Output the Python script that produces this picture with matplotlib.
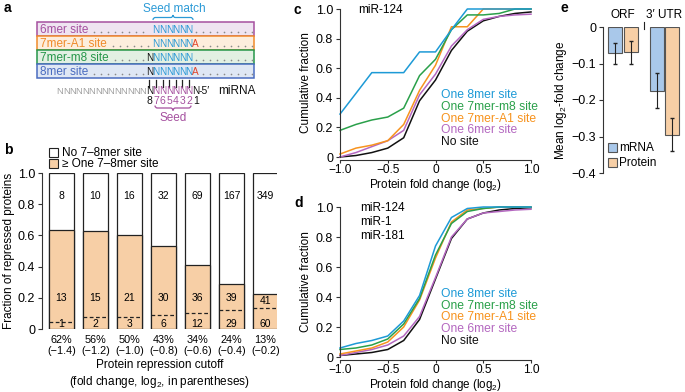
import matplotlib.pyplot as plt
from matplotlib.patches import Rectangle, PathPatch
from matplotlib.path import Path
import numpy as np

plt.rcParams['font.family'] = ['Liberation Sans', 'DejaVu Sans']
plt.rcParams['mathtext.fontset'] = 'custom'
plt.rcParams['mathtext.rm'] = 'Liberation Sans'
plt.rcParams['mathtext.it'] = 'Liberation Sans:italic'
plt.rcParams['mathtext.bf'] = 'Liberation Sans:bold'
plt.rcParams['axes.linewidth'] = 0.8

# ---------------- data ----------------
# panel a: site types
site_names = ['6mer site', '7mer-A1 site', '7mer-m8 site', '8mer site']
site_colors = ['#a5509f', '#f08a2a', '#26964a', '#4a6cc0']
site_fills = ['#efe4f1', '#fdeedd', '#e2f0e3', '#dfe7f4']
site_m8 = [False, False, True, True]
site_a1 = [False, True, False, True]
seed_digits = ['8', '7', '6', '5', '4', '3', '2', '1']

# panel b: counts per protein repression cutoff
cutoff_pct = ['62%', '56%', '50%', '43%', '34%', '24%', '13%']
cutoff_log2 = ['−1.4', '−1.2', '−1.0', '−0.8', '−0.6', '−0.4', '−0.2']
n_no_site = [8, 10, 16, 32, 69, 167, 349]
n_site_upper = [13, 15, 21, 30, 36, 39, 41]
n_site_lower = [1, 2, 3, 6, 12, 29, 60]

# panels c, d: cumulative distributions
fold = [-1.0, -0.833, -0.667, -0.5, -0.333, -0.167, 0.0, 0.167, 0.333, 0.5, 0.667, 0.833, 1.0]
curve_names = ['One 8mer site', 'One 7mer-m8 site', 'One 7mer-A1 site', 'One 6mer site', 'No site']
curve_colors = ['#1d9ad6', '#2aa04a', '#f7931e', '#b468c0', '#111111']

c_8mer = [0.29, 0.43, 0.57, 0.57, 0.57, 0.71, 0.71, 0.86, 1.0, 1.0, 1.0, 1.0, 1.0]
c_7m8 = [0.18, 0.22, 0.25, 0.27, 0.33, 0.55, 0.66, 0.86, 0.96, 0.96, 0.97, 1.0, 1.0]
c_7a1 = [0.02, 0.06, 0.08, 0.11, 0.22, 0.45, 0.62, 0.88, 0.88, 1.0, 1.0, 1.0, 1.0]
c_6mer = [0.0, 0.03, 0.07, 0.11, 0.18, 0.42, 0.56, 0.75, 0.86, 0.93, 0.95, 0.96, 0.965]
c_none = [0.0, 0.01, 0.03, 0.06, 0.13, 0.38, 0.52, 0.72, 0.85, 0.92, 0.95, 0.97, 0.98]

d_8mer = [0.06, 0.09, 0.11, 0.14, 0.24, 0.41, 0.74, 0.93, 0.99, 1.0, 1.0, 1.0, 1.0]
d_7m8 = [0.05, 0.06, 0.08, 0.12, 0.22, 0.39, 0.68, 0.89, 0.97, 0.99, 1.0, 1.0, 1.0]
d_7a1 = [0.02, 0.04, 0.06, 0.10, 0.20, 0.38, 0.66, 0.90, 0.98, 0.99, 1.0, 1.0, 1.0]
d_6mer = [0.01, 0.03, 0.05, 0.08, 0.14, 0.27, 0.53, 0.80, 0.92, 0.96, 0.97, 0.98, 0.985]
d_none = [0.01, 0.02, 0.03, 0.05, 0.11, 0.25, 0.52, 0.79, 0.92, 0.96, 0.98, 0.99, 0.995]

# panel e
regions = ['ORF', '3′ UTR']
mrna_mean = [-0.072, -0.175]
mrna_err = [0.028, 0.048]
prot_mean = [-0.069, -0.295]
prot_err = [0.032, 0.046]

# ---------------- layout helpers (pixels) ----------------
W, H = 685, 392
PEACH = '#f7cfa6'
BLUE = '#a9c8ea'
SPINE = '#333333'


def box(x0, x1, ytop, ybot):
    return [x0 / W, 1 - ybot / H, (x1 - x0) / W, (ybot - ytop) / H]


def style(ax):
    for s in ['top', 'right']:
        ax.spines[s].set_visible(False)
    for s in ['left', 'bottom']:
        ax.spines[s].set_color(SPINE)
    ax.tick_params(direction='out', length=3, width=0.8, color=SPINE, labelsize=9, pad=2)
    ax.patch.set_alpha(0)


fig = plt.figure(figsize=(W / 100, H / 100), dpi=100)

# ---------------- panel b ----------------
axb = fig.add_axes(box(42, 277, 173, 329))
style(axb)
tot = np.array(n_no_site) + np.array(n_site_upper) + np.array(n_site_lower)
frac_site = (np.array(n_site_upper) + np.array(n_site_lower)) / tot
frac_low = np.array(n_site_lower) / tot
xb = np.arange(len(cutoff_pct))
bw = 0.74
axb.bar(xb, np.ones(len(xb)), width=bw, color='white', edgecolor='#222222', linewidth=0.9)
axb.bar(xb, frac_site, width=bw, color=PEACH, edgecolor='#222222', linewidth=0.9)
for i in xb:
    axb.plot([i - bw / 2, i + bw / 2], [frac_low[i], frac_low[i]], ls=(0, (3, 2)), color='#222222', lw=0.9)
    axb.text(i, 0.855, str(n_no_site[i]), ha='center', va='center', fontsize=7.5)
    axb.text(i, min(0.2, (frac_site[i] + frac_low[i]) / 2), str(n_site_upper[i]),
             ha='center', va='center', fontsize=7.5)
    axb.text(i, 0.035, str(n_site_lower[i]), ha='center', va='center', fontsize=7.5)
axb.set_xlim(-0.574, 6.34)
axb.set_ylim(0, 1)
axb.spines['bottom'].set_visible(False)
axb.set_yticks([0, 0.2, 0.4, 0.6, 0.8, 1.0])
axb.set_yticklabels(['0', '0.2', '0.4', '0.6', '0.8', '1.0'])
axb.set_xticks(xb)
axb.set_xticklabels([f'{p}\n({l})' for p, l in zip(cutoff_pct, cutoff_log2)], fontsize=7.8, linespacing=1.15)
axb.tick_params(axis='x', length=0, pad=4)
axb.set_xlabel('Protein repression cutoff\n(fold change, log$_2$, in parentheses)', fontsize=8.5, labelpad=2,
               linespacing=1.3)
axb.set_ylabel('Fraction of repressed proteins', fontsize=8.5, labelpad=2)


# ---------------- panels c, d ----------------
def cdf_panel(rect, series):
    ax = fig.add_axes(rect)
    style(ax)
    for ys, col in zip(series, curve_colors[::-1]):
        ax.plot(fold, ys, color=col, lw=1.1, clip_on=False)
    ax.set_xlim(-1, 1)
    ax.set_ylim(0, 1)
    ax.spines['bottom'].set_position(('outward', 2.5))
    ax.set_xticks([-1, -0.5, 0, 0.5, 1])
    ax.set_xticklabels(['−1.0', '−0.5', '0', '0.5', '1.0'])
    ax.tick_params(axis='x', pad=0.5, length=2.2, labelsize=8.6)
    ax.set_yticks([0, 0.2, 0.4, 0.6, 0.8, 1.0])
    ax.set_yticklabels(['0', '0.2', '0.4', '0.6', '0.8', '1.0'])
    ax.set_xlabel('Protein fold change (log$_2$)', fontsize=8.4)
    ax.xaxis.set_label_coords(0.5, -0.133)
    ax.set_ylabel('Cumulative fraction', fontsize=8.5, labelpad=3)
    return ax


axc = cdf_panel(box(340, 531, 9, 157), [c_none, c_6mer, c_7a1, c_7m8, c_8mer])
axd = cdf_panel(box(340, 531, 207, 357), [d_none, d_6mer, d_7a1, d_7m8, d_8mer])

# ---------------- panel e ----------------
axe = fig.add_axes(box(603, 682, 27, 173))
style(axe)
gx = np.array([0.0, 2.68])
ew = 0.9
axe.bar(gx, mrna_mean, width=ew, color=BLUE, edgecolor='#555555', linewidth=0.8)
axe.bar(gx + 1, prot_mean, width=ew, color=PEACH, edgecolor='#555555', linewidth=0.8)
axe.errorbar(gx, mrna_mean, yerr=mrna_err, fmt='none', ecolor='#222222', elinewidth=0.8, capsize=1.5)
axe.errorbar(gx + 1, prot_mean, yerr=prot_err, fmt='none', ecolor='#222222', elinewidth=0.8, capsize=1.5)
axe.set_xlim(-0.77, 4.3)
axe.set_ylim(-0.4, 0)
axe.spines['bottom'].set_visible(False)
axe.set_xticks([])
axe.set_yticks([0, -0.1, -0.2, -0.3, -0.4])
axe.set_yticklabels(['0', '−0.1', '−0.2', '−0.3', '−0.4'])
axe.set_ylabel('Mean log$_2$-fold change', fontsize=8.5, labelpad=2)
axe.plot([1.84, 1.84], [-0.006, 0.013], color='#222222', lw=0.8, clip_on=False)
for g, name in zip(gx, regions):
    axe.text(g + 0.5, 0.033, name, ha='center', va='center', fontsize=8.5, clip_on=False)

# ---------------- overlay (panel a, legends, letters) ----------------
ov = fig.add_axes([0, 0, 1, 1])
ov.set_xlim(0, W)
ov.set_ylim(H, 0)
ov.axis('off')
ov.patch.set_alpha(0)

for lab, (x, y) in zip('abcde', [(4, 8), (4, 150), (294, 10), (294, 203), (561, 8)]):
    ov.text(x, y, lab, fontsize=10, fontweight='bold', ha='left', va='center')


def brace(x0, x1, y, h, color, tip_up):
    s = -1 if tip_up else 1
    xm = (x0 + x1) / 2
    verts = [(x0, y - s * h), (x0, y), (x0 + h, y), (xm - h, y), (xm, y), (xm, y + s * h),
             (xm, y), (xm + h, y), (x1 - h, y), (x1, y), (x1, y - s * h)]
    codes = [Path.MOVETO, Path.CURVE3, Path.CURVE3, Path.LINETO, Path.CURVE3, Path.CURVE3,
             Path.CURVE3, Path.CURVE3, Path.LINETO, Path.CURVE3, Path.CURVE3]
    ov.add_patch(PathPatch(Path(verts, codes), fc='none', ec=color, lw=0.9))


SEEDBLUE = '#2b9ad6'
RED = '#e2452b'
PURP = '#a5509f'
NFS = 7.2
pitch = 6.6
pos8 = 149.5
seed_x = [pos8 + pitch * k for k in range(1, 7)]
pos1 = pos8 + pitch * 7

ov.text(174, 9, 'Seed match', color=SEEDBLUE, fontsize=8.5, ha='center', va='center')
brace(153, 193, 17.5, 2.5, SEEDBLUE, True)

renderer = fig.canvas.get_renderer()
row_top = [22, 36, 50, 64]
for r, name in enumerate(site_names):
    y0 = row_top[r]
    ov.add_patch(Rectangle((37, y0), 217, 14, fc=site_fills[r], ec=site_colors[r], lw=1.1))
    yc = y0 + 7.5
    t = ov.text(40, yc, name, color=site_colors[r], fontsize=8.5, ha='left', va='center')
    bb = t.get_window_extent(renderer)
    xend = bb.x1
    dot_stop = pos8 - 6 if site_m8[r] else seed_x[0] - 6
    dx = np.arange(xend + 6, dot_stop + 0.1, 7)
    ov.plot(dx, np.full(len(dx), yc + 2.5), 'o', ms=1.2, color='#8a8a8a', mec='none')
    if site_m8[r]:
        ov.text(pos8, yc, 'N', color='#111111', fontsize=NFS, ha='center', va='center')
    for xs in seed_x:
        ov.text(xs, yc, 'N', color=SEEDBLUE, fontsize=NFS, ha='center', va='center')
    if site_a1[r]:
        ov.text(pos1, yc, 'A', color=RED, fontsize=NFS, ha='center', va='center')
        start = pos1 + 7
    else:
        start = pos1
    dx = np.arange(start, 252, 7)
    ov.plot(dx, np.full(len(dx), yc + 2.5), 'o', ms=1.2, color='#8a8a8a', mec='none')

# pairing lines
for k in range(7):
    ov.plot([pos8 + pitch * k] * 2, [80, 86.5], color='#222222', lw=0.9)

# miRNA row
ymi = 91
for k in range(14):
    ov.text(pos8 - 6.4 * (k + 1), ymi, 'N', color='#a0a0a0', fontsize=6.8, ha='center', va='center')
ov.text(pos8, ymi, 'N', color='#111111', fontsize=NFS, ha='center', va='center')
for xs in seed_x:
    ov.text(xs, ymi, 'N', color=PURP, fontsize=NFS, ha='center', va='center')
ov.text(pos1, ymi, 'N', color='#111111', fontsize=NFS, ha='center', va='center')
ov.text(pos1 + 3.3, ymi, '-5′', color='#111111', fontsize=7.5, ha='left', va='center')
ov.text(218, ymi, 'miRNA', color='#111111', fontsize=8.5, ha='left', va='center')
for k, dgt in enumerate(seed_digits):
    col = PURP if 1 <= k <= 6 else '#111111'
    ov.text(pos8 + pitch * k, 101, dgt, color=col, fontsize=7.5, ha='center', va='center')
brace(155, 191, 108, 2.5, PURP, False)
ov.text(173, 118, 'Seed', color=PURP, fontsize=8.5, ha='center', va='center')

# panel b legend
ov.add_patch(Rectangle((49, 148), 9, 9, fc='white', ec='#222222', lw=0.8))
ov.add_patch(Rectangle((49, 159), 9, 9, fc=PEACH, ec='#222222', lw=0.8))
ov.text(62, 152.5, 'No 7–8mer site', fontsize=8.5, ha='left', va='center')
ov.text(62, 163.5, '≥ One 7–8mer site', fontsize=8.5, ha='left', va='center')

# panels c, d annotations
for y0, col, name in zip([95, 107, 118.5, 130, 141.5], curve_colors, curve_names):
    ov.text(441, y0, name, color=col, fontsize=8.7, ha='left', va='center')
    ov.text(441, y0 + 199, name, color=col, fontsize=8.7, ha='left', va='center')
ov.text(358, 10, 'miR-124', fontsize=8.5, ha='left', va='center')
for y0, name in zip([208, 222, 236], ['miR-124', 'miR-1', 'miR-181']):
    ov.text(360, y0, name, fontsize=8.5, ha='left', va='center')

# panel e legend
ov.add_patch(Rectangle((608, 143), 9, 9, fc=BLUE, ec='#555555', lw=0.8))
ov.add_patch(Rectangle((608, 158), 9, 9, fc=PEACH, ec='#555555', lw=0.8))
ov.text(619, 147.5, 'mRNA', fontsize=8.5, ha='left', va='center')
ov.text(619, 162.5, 'Protein', fontsize=8.5, ha='left', va='center')

fig.savefig('out.png', dpi=100)
